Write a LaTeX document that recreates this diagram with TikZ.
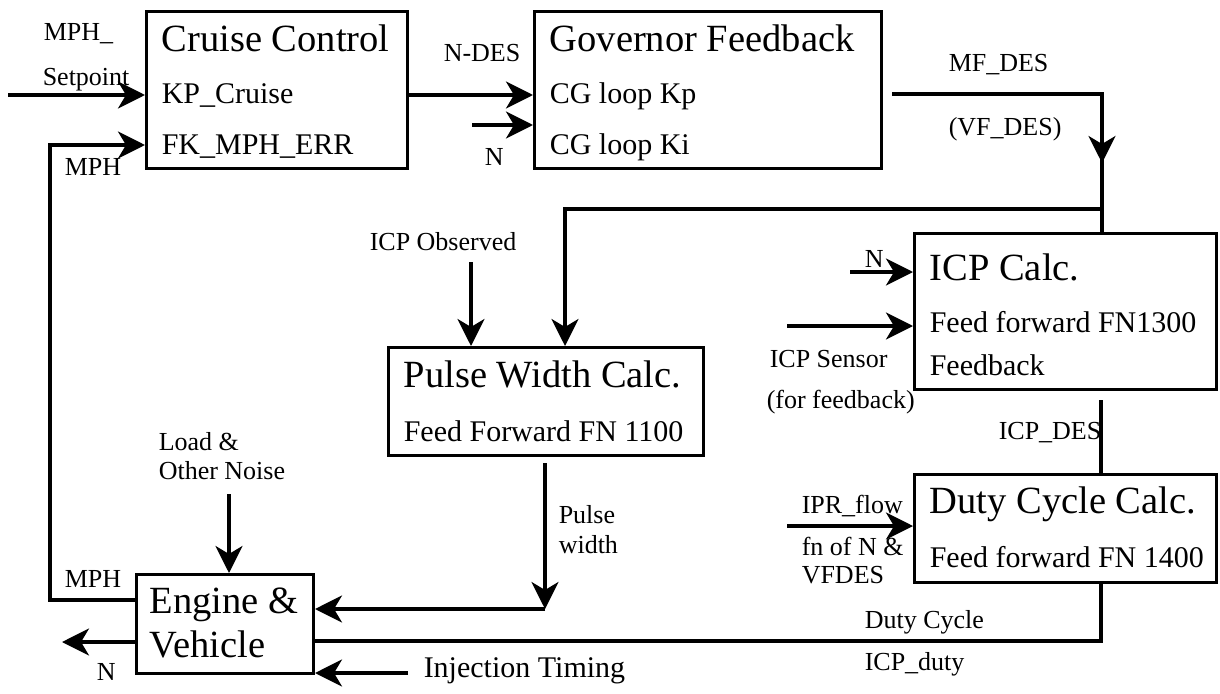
\documentclass[tikz,border=0pt]{standalone}
\usepackage{fontspec}
\setmainfont{Liberation Serif}
\usepackage{tikz}
\usetikzlibrary{arrows.meta, positioning, calc}

\begin{document}
\begin{tikzpicture}[x=1pt, y=-1pt, >={Stealth[length=27pt, width=27pt, inset=8pt]}, line width=3.5pt,
    big/.style={font=\fontsize{38.5}{43}\selectfont},
    mid/.style={font=\fontsize{30}{34}\selectfont},
    lbl/.style={font=\fontsize{26}{30}\selectfont}]
        \useasboundingbox (0,0) rectangle (1220,693);
        \begin{scope}[every node/.style={draw, 
            line width=3pt, 
            inner sep=0pt, 
            anchor=north west}]
            \node[minimum width=261pt, minimum height=157pt] at (145,10) (cruise) {};
            \node[minimum width=347pt, minimum height=157pt] at (533,10) (governor) {};
            \node[minimum width=302pt, minimum height=156pt] at (913,232) (icpcalc) {};
            \node[minimum width=315pt, minimum height=108pt] at (387,346) (pulsecalc) {};
            \node[minimum width=302pt, minimum height=108pt] at (913,473) (dutycalc) {};
            \node[minimum width=177pt, minimum height=99pt] at (135,573) (engine) {};
        \end{scope}
        \begin{scope}[every node/.style={inner sep=0pt, anchor=base west}]
            \node[big] at (160,52) (cruisettl) {Cruise Control};
            \node[mid] at (160,103) (kpcruise) {KP\_Cruise};
            \node[mid] at (160,154) (fkerr) {FK\_MPH\_ERR};
            \node[big] at (548,52) (govttl) {Governor Feedback};
            \node[mid] at (548,103) (cgkp) {CG loop Kp};
            \node[mid] at (548,154) (cgki) {CG loop Ki};
            \node[big] at (928,280) (icpttl) {ICP Calc.};
            \node[mid] at (928,332) (icpff) {Feed forward FN1300};
            \node[mid] at (928,375) (icpfb) {Feedback};
            \node[big] at (402,387) (pulsettl) {Pulse Width Calc.};
            \node[mid] at (402,441) (pulseff) {Feed Forward FN 1100};
            \node[big] at (928,513) (dutyttl) {Duty Cycle Calc.};
            \node[mid] at (928,567) (dutyff) {Feed forward FN 1400};
            \node[big] at (148,613) (enginettl) {Engine \&};
            \node[big] at (148,657) (vehiclettl) {Vehicle};
            \node[lbl] at (42,41) (mphsp) {MPH\_};
            \node[lbl] at (41,85) (setpt) {Setpoint};
            \node[lbl] at (63,175) (mphtop) {MPH};
            \node[lbl] at (442,61) (ndes) {N-DES};
            \node[lbl] at (483,165) (ngovlbl) {N};
            \node[lbl] at (947,71) (mfdes) {MF\_DES};
            \node[lbl] at (947,135) (vfdes) {(VF\_DES)};
            \node[lbl] at (863,267) (nicplbl) {N};
            \node[lbl] at (768,367) (sensorlbl) {ICP Sensor};
            \node[lbl] at (765,408) (forfb) {(for feedback)};
            \node[lbl] at (997,439) (icpdeslbl) {ICP\_DES};
            \node[lbl] at (800,513) (iprlbl) {IPR\_flow};
            \node[lbl] at (800,555) (fnof) {fn of N \&};
            \node[lbl] at (800,583) (vfdeslbl) {VFDES};
            \node[lbl] at (863,628) (dutylbl) {Duty Cycle};
            \node[lbl] at (863,670) (icpduty) {ICP\_duty};
            \node[lbl] at (368,250) (obslbl) {ICP Observed};
            \node[lbl] at (557,523) (pulselbl) {Pulse};
            \node[lbl] at (557,553) (widthlbl) {width};
            \node[lbl] at (157,450) (loadlbl) {Load \&};
            \node[lbl] at (157,479) (noiselbl) {Other Noise};
            \node[lbl] at (63,587) (mphbot) {MPH};
            \node[lbl] at (95,680) (noutlbl) {N};
            \node[mid] at (422,677) (injlbl) {Injection Timing};
        \end{scope}
        \coordinate (setin) at (8,95);
        \coordinate (mphcorner) at (50,600);
        \coordinate (fkin) at (50,145);
        \coordinate (ngov) at (472,125);
        \coordinate (mfstart) at (892,94);
        \coordinate (mfcorner) at (1102,94);
        \coordinate (mfmid) at (1102,163);
        \coordinate (branch) at (1102,209);
        \coordinate (pwin) at (565,209);
        \coordinate (nicp) at (850,272);
        \coordinate (sensor) at (787,326);
        \coordinate (icpdes) at (1101,400);
        \coordinate (ipr) at (787,526);
        \coordinate (dutycorner) at (1101,641);
        \coordinate (pwtop) at (545,463);
        \coordinate (pwcorner) at (545,609);
        \coordinate (obs) at (471,262);
        \coordinate (load) at (229,494);
        \coordinate (nout) at (62,642);
        \coordinate (inj) at (408,673);
        \draw[->] (setin) -- (cruise.west |- setin);
        \draw[->] (engine.west |- mphcorner) -- (mphcorner) -- (fkin) -- (cruise.west |- fkin);
        \draw[->] (cruise.east |- setin) -- (governor.west |- setin);
        \draw[->] (ngov) -- (governor.west |- ngov);
        \draw (mfstart) -- (mfcorner) -- (mfcorner |- icpcalc.north);
        \draw[->] (mfcorner) -- (mfmid);
        \draw[->] (branch) -- (pwin) -- (pwin |- pulsecalc.north);
        \draw[->] (nicp) -- (icpcalc.west |- nicp);
        \draw[->] (sensor) -- (icpcalc.west |- sensor);
        \draw (icpdes) -- (icpdes |- dutycalc.north);
        \draw[->] (ipr) -- (dutycalc.west |- ipr);
        \draw (dutycorner |- dutycalc.south) -- (dutycorner) -- (engine.east |- dutycorner);
        \draw[->] (pwtop) -- (pwcorner);
        \draw[->] (pwcorner) -- (engine.east |- pwcorner);
        \draw[->] (obs) -- (obs |- pulsecalc.north);
        \draw[->] (load) -- (load |- engine.north);
        \draw[->] (engine.west |- nout) -- (nout);
        \draw[->] (inj) -- (engine.east |- inj);
    \end{tikzpicture}
\end{document}
